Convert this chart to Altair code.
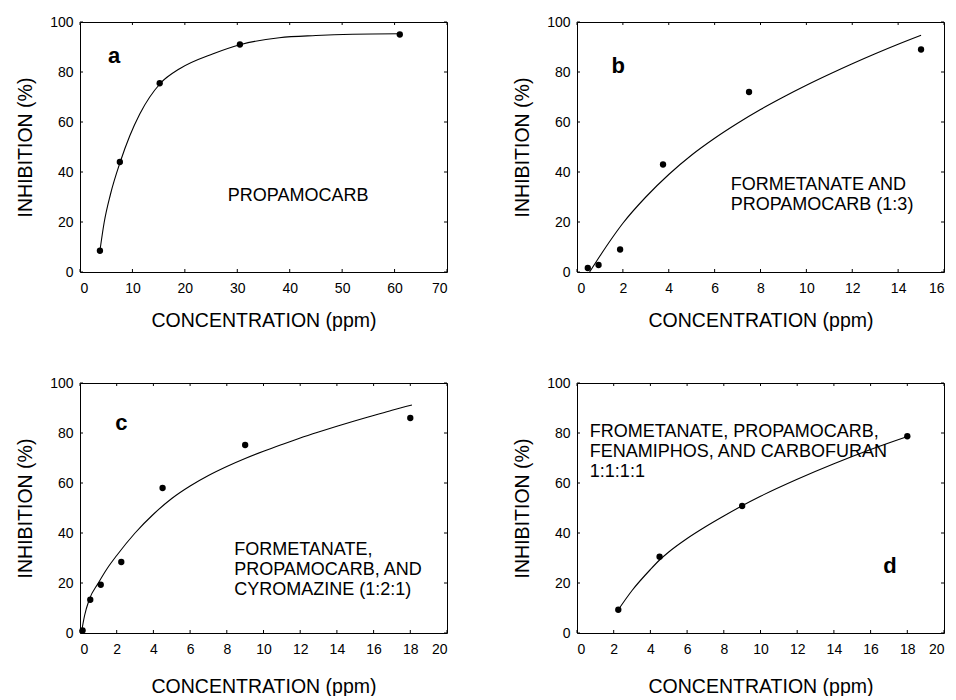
import altair as alt
import pandas as pd

FONT = "Liberation Sans"
W, H = 367, 250
TICK = 6

# ---- measured points and fitted dose-response curves ----
a_x = [3.8, 7.6, 15.2, 30.5, 61.0]
a_y = [8.5, 44.0, 75.5, 91.0, 95.0]
a_fit_x = [3.8, 4.6, 5.8, 7.7, 9.5, 11.4, 15.4, 19.0, 25.4, 30.7, 38.0, 45.0, 52.0, 61.0]
a_fit_y = [8.5, 19.7, 31.0, 44.2, 54.5, 63.2, 75.6, 81.3, 87.3, 91.0, 93.7, 94.6, 95.1, 95.3]

b_x = [0.47, 0.94, 1.88, 3.75, 7.5, 15.0]
b_y = [1.6, 2.8, 9.0, 43.0, 72.0, 89.0]
b_fit_x = [0.55, 1.0, 1.5, 2.0, 3.0, 4.0, 5.0, 6.0, 7.0, 8.0, 9.0, 10.0, 11.0, 12.0, 13.0, 14.0, 15.0]
b_fit_y = [0.0, 6.4, 13.2, 19.5, 30.0, 39.0, 46.8, 53.5, 59.5, 65.0, 70.0, 74.7, 79.1, 83.3, 87.3, 91.1, 94.7]

c_x = [0.14, 0.56, 1.13, 2.25, 4.5, 9.0, 18.0]
c_y = [1.0, 13.3, 19.3, 28.4, 58.0, 75.2, 86.0]
c_fit_x = [0.09, 0.25, 0.5, 1.0, 1.5, 2.0, 3.0, 4.0, 5.0, 6.0, 7.0, 8.0, 9.0, 10.0,
           11.0, 12.0, 13.0, 14.0, 15.0, 16.0, 17.0, 18.09]
c_fit_y = [0.7, 7.0, 13.3, 20.0, 26.0, 31.0, 40.0, 47.5, 53.8, 58.8, 63.0, 66.6, 69.8, 72.7,
           75.4, 78.0, 80.4, 82.7, 84.9, 87.0, 89.1, 91.2]

d_x = [2.25, 4.5, 9.0, 18.0]
d_y = [9.3, 30.5, 50.8, 78.7]
d_fit_x = [2.25, 3.0, 4.0, 4.5, 5.0, 6.0, 7.0, 8.0, 9.0, 10.0, 12.0, 14.0, 16.0, 18.05]
d_fit_y = [9.3, 17.0, 25.4, 29.2, 32.4, 37.8, 42.5, 46.8, 50.9, 54.7, 61.5, 67.7, 73.4, 78.7]

# ---- axis ticks ----
y_ticks = [0, 20, 40, 60, 80, 100]
a_xticks = [0, 10, 20, 30, 40, 50, 60, 70]
b_xticks = [0, 2, 4, 6, 8, 10, 12, 14, 16]
cd_xticks = [0, 2, 4, 6, 8, 10, 12, 14, 16, 18, 20]

# ---- texts ----
a_note = "PROPAMOCARB"
b_note = ["FORMETANATE AND", "PROPAMOCARB (1:3)"]
c_note = ["FORMETANATE,", "PROPAMOCARB, AND", "CYROMAZINE (1:2:1)"]
d_note = ["FROMETANATE, PROPAMOCARB,", "FENAMIPHOS, AND CARBOFURAN", "1:1:1:1"]

X_TITLE = "CONCENTRATION (ppm)"
Y_TITLE = "INHIBITION (%)"

# short stroke glyphs used as inward tick marks (unit length, scaled by symbol size)
TICK_UP = "M0,0L0,-1"
TICK_DOWN = "M0,0L0,1"
TICK_RIGHT = "M0,0L1,0"
TICK_LEFT = "M0,0L-1,0"


def panel(px, py, fx, fy, xticks, letter, letter_pos, note, note_pos, x_title_pad):
    xmax = xticks[-1]
    xscale = alt.Scale(domain=[0, xmax], nice=False, zero=False)
    yscale = alt.Scale(domain=[0, 100], nice=False, zero=False)
    xaxis = alt.Axis(values=xticks, title=X_TITLE, format="d", ticks=False,
                     domain=False, grid=False, labelPadding=9, titlePadding=x_title_pad)
    yaxis = alt.Axis(values=y_ticks, title=Y_TITLE, format="d", ticks=False,
                     domain=False, grid=False, labelPadding=7, titlePadding=14)

    def X():
        return alt.X("x:Q", scale=xscale, axis=xaxis)

    def Y():
        return alt.Y("y:Q", scale=yscale, axis=yaxis)

    def Xd(v):
        return alt.X(datum=v, scale=xscale, axis=xaxis)

    def Yd(v):
        return alt.Y(datum=v, scale=yscale, axis=yaxis)

    pts = pd.DataFrame({"x": px, "y": py})
    fit = pd.DataFrame({"x": fx, "y": fy})
    xt = pd.DataFrame({"x": xticks})
    yt = pd.DataFrame({"y": y_ticks})
    one = pd.DataFrame({"k": [0]})

    curve = alt.Chart(fit).mark_line(color="black", strokeWidth=1.1,
                                     interpolate="monotone").encode(x=X(), y=Y())
    dots = alt.Chart(pts).mark_point(filled=True, color="black", size=40,
                                     opacity=1).encode(x=X(), y=Y())

    # inward ticks on all four sides of the frame
    def ticks(df, shape, **enc):
        return alt.Chart(df).mark_point(
            shape=shape, filled=False, stroke="black", strokeWidth=1,
            size=TICK * TICK, opacity=1
        ).encode(**enc)

    t_bottom = ticks(xt, TICK_UP, x=X(), y=Yd(0))
    t_top = ticks(xt, TICK_DOWN, x=X(), y=Yd(100))
    t_left = ticks(yt, TICK_RIGHT, y=Y(), x=Xd(0))
    t_right = ticks(yt, TICK_LEFT, y=Y(), x=Xd(xmax))

    lab = alt.Chart(one).mark_text(
        text=letter, font=FONT, fontSize=22, fontWeight="bold", color="black",
        align="center", baseline="middle"
    ).encode(x=Xd(letter_pos[0]), y=Yd(letter_pos[1]))

    txt = alt.Chart(one).mark_text(
        text=note, font=FONT, fontSize=18, lineHeight=20, color="black",
        align="left", baseline="middle"
    ).encode(x=Xd(note_pos[0]), y=Yd(note_pos[1]))

    return alt.layer(t_bottom, t_top, t_left, t_right, curve, dots, lab, txt).properties(
        width=W, height=H)


pa = panel(a_x, a_y, a_fit_x, a_fit_y, a_xticks, "a", (6.5, 86.3), a_note, (28.2, 30.5), 16)
pb = panel(b_x, b_y, b_fit_x, b_fit_y, b_xticks, "b", (1.8, 82.3), b_note, (6.7, 35.0), 16)
pc = panel(c_x, c_y, c_fit_x, c_fit_y, cd_xticks, "c", (2.25, 84.0), c_note, (8.4, 33.2), 21)
pd_ = panel(d_x, d_y, d_fit_x, d_fit_y, cd_xticks, "d", (17.05, 27.0), d_note, (0.7, 80.4), 21)

chart = alt.vconcat(
    alt.hconcat(pa, pb, spacing=62),
    alt.hconcat(pc, pd_, spacing=62),
    spacing=45,
).properties(
    padding={"left": 15, "top": 14, "right": 0, "bottom": 0},
    background="white",
).configure_view(
    stroke="black", strokeWidth=1
).configure_axis(
    labelFont=FONT, labelFontSize=14, labelColor="black",
    titleFont=FONT, titleFontSize=19.5, titleFontWeight="normal", titleColor="black",
)

chart.save("out.html", embed_options={"renderer": "svg", "actions": False})
